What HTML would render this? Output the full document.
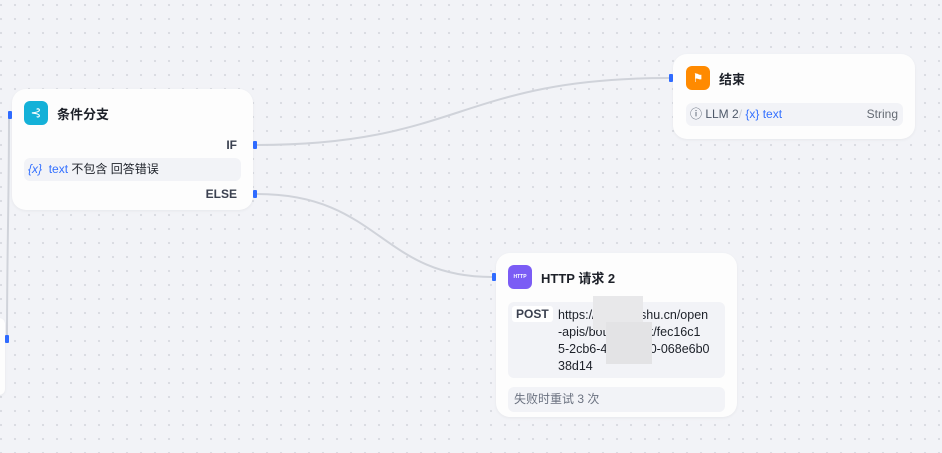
<!DOCTYPE html>
<html><head><meta charset="utf-8"><style>
*{margin:0;padding:0;box-sizing:border-box}
body{width:942px;height:453px;overflow:hidden;position:relative;background-color:#f2f3f7;
background-image:radial-gradient(circle,#d9dbe1 1px,transparent 1.3px);background-size:14px 14px;background-position:-6px -2px;
font-family:"Liberation Sans","Noto Sans CJK SC",sans-serif;color:#1d2129}
.node{position:absolute;background:#fdfdfd;border-radius:14px;box-shadow:0 1px 3px rgba(0,0,0,.05)}
.icon{position:absolute;width:24px;height:24px;border-radius:6px;color:#fff;display:flex;align-items:center;justify-content:center}
.title{position:absolute;font-size:13px;font-weight:bold;color:#1d2129}
.row{position:absolute;background:#f2f3f7;border-radius:6px;font-size:12px}
.h{position:absolute;width:4px;height:8px;background:#2f6bff;border-radius:1px}
.blue{color:#3370ff}
</style></head><body>
<svg width="942" height="453" style="position:absolute;left:0;top:0">
<path d="M257 145 C 460 145, 460 78, 669 78" stroke="#d0d3da" stroke-width="2" fill="none"/>
<path d="M257 194 C 380 194, 380 277, 492 277" stroke="#d0d3da" stroke-width="2" fill="none"/>
<path d="M7 340 C 7 250, 9 200, 9 115" stroke="#d0d3da" stroke-width="2" fill="none"/>
</svg>
<div class="node" style="left:-10px;top:318px;width:15px;height:77px;border-radius:6px"></div>
<div class="h" style="left:5px;top:335px"></div>

<div class="node" style="left:12px;top:89px;width:241px;height:121px">
 <div class="icon" style="left:12px;top:12px;background:#14b1d8;font-size:13px">⊰</div>
 <div class="title" style="left:45px;top:15px">条件分支</div>
 <div style="position:absolute;right:16px;top:49px;font-size:12px;font-weight:bold;color:#3b4150">IF</div>
 <div class="row" style="left:12px;top:69px;width:217px;height:23px;line-height:23px;padding-left:4px"><span class="blue" style="font-style:italic">{x}</span> <span class="blue">&nbsp;text</span> 不包含 回答错误</div>
 <div style="position:absolute;right:16px;top:98px;font-size:12px;font-weight:bold;color:#3b4150">ELSE</div>
</div>
<div class="h" style="left:8px;top:111px"></div>
<div class="h" style="left:253px;top:141px"></div>
<div class="h" style="left:253px;top:190px"></div>

<div class="node" style="left:673px;top:54px;width:242px;height:85px">
 <div class="icon" style="left:13px;top:12px;background:#ff8a00;font-size:12px">⚑</div>
 <div class="title" style="left:46px;top:15px">结束</div>
 <div class="row" style="left:13px;top:49px;width:217px;height:23px;line-height:23px;padding-left:4px;color:#4e5969">ⓘ LLM 2<span style="color:#c9cdd4">/</span> <span class="blue">{x} text</span><span style="position:absolute;right:5px;color:#646a73">String</span></div>
</div>
<div class="h" style="left:669px;top:74px"></div>

<div class="node" style="left:496px;top:253px;width:241px;height:164px">
 <div class="icon" style="left:12px;top:12px;background:#7b5cf5;font-size:5px;font-weight:bold">HTTP</div>
 <div class="title" style="left:45px;top:15px">HTTP 请求 2</div>
 <div class="row" style="left:12px;top:49px;width:217px;height:76px">
  <div style="position:absolute;left:4px;top:4px;background:#fff;border-radius:3px;padding:0 4px;font-weight:bold;color:#3b4150;font-size:12px;line-height:16px">POST</div>
  <div style="position:absolute;left:50px;top:5px;width:170px;font-size:12.5px;line-height:17px;white-space:nowrap">https://open.feishu.cn/open<br>-apis/bot/v2/hook/fec16c1<br>5-2cb6-4f6a-a9d0-068e6b0<br>38d14</div>
  <div style="position:absolute;left:85px;top:-6px;width:50px;height:34px;background:#e8e8ea"></div>
  <div style="position:absolute;left:98px;top:20px;width:46px;height:42px;background:#e3e3e5"></div>
 </div>
 <div class="row" style="left:12px;top:134px;width:217px;height:25px;line-height:25px;padding-left:6px;color:#6b7280">失败时重试 3 次</div>
</div>
<div class="h" style="left:492px;top:273px"></div>
</body></html>
